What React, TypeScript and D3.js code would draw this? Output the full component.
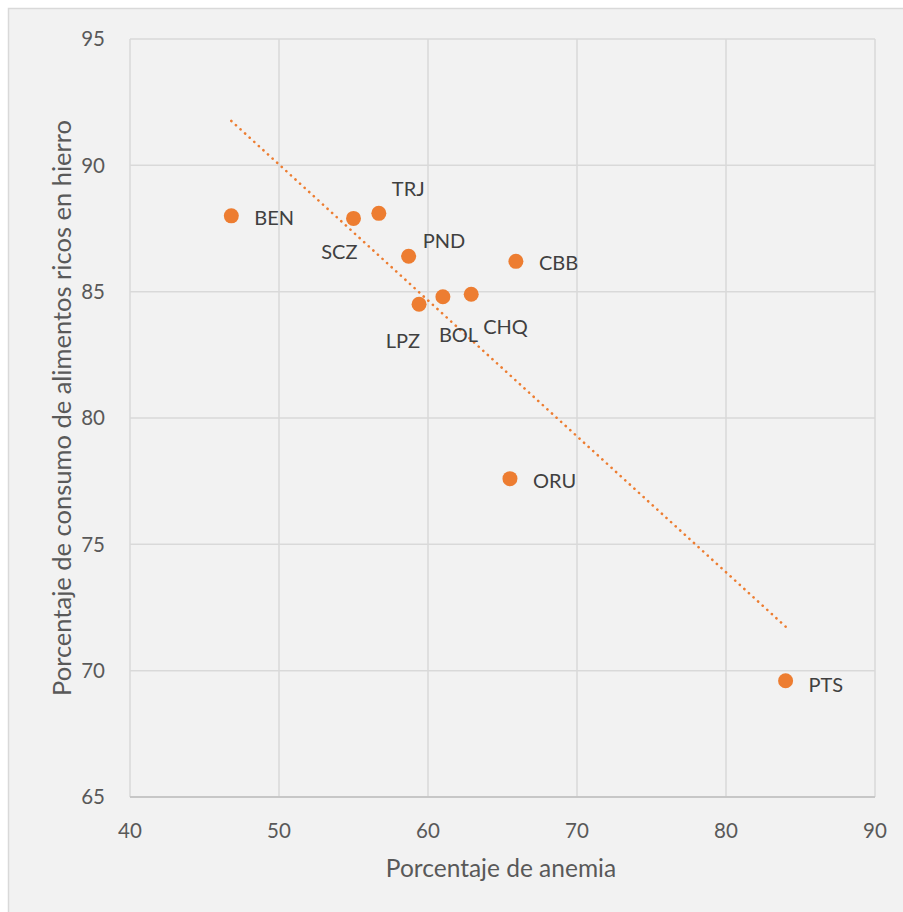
import React from "react";
import * as d3 from "d3";

const regions = ["BEN", "SCZ", "TRJ", "PND", "CBB", "LPZ", "BOL", "CHQ", "ORU", "PTS"];
const anemia = [46.8, 55.0, 56.7, 58.7, 65.9, 59.4, 61.0, 62.9, 65.5, 84.0];
const ironConsumption = [88.0, 87.9, 88.1, 86.4, 86.2, 84.5, 84.8, 84.9, 77.6, 69.6];
const xTicks = [40, 50, 60, 70, 80, 90];
const yTicks = [65, 70, 75, 80, 85, 90, 95];
// label offsets (px) relative to each point: [dx, dy, anchor]
const labelOffsets: [number, number, string][] = [
  [23, 2, "start"],
  [4, 34, "end"],
  [13, -24, "start"],
  [14, -15, "start"],
  [23, 2, "start"],
  [1, 37, "end"],
  [-4, 38, "start"],
  [12, 33, "start"],
  [23, 2, "start"],
  [23, 4, "start"],
];

const X0 = 130, X1 = 875, Y0 = 39, Y1 = 797;
const FONT = "Lato, sans-serif";
const ORANGE = "#ED7D31";

export default function App() {
  const x = d3.scaleLinear().domain([40, 90]).range([X0, X1]);
  const y = d3.scaleLinear().domain([65, 95]).range([Y1, Y0]);

  const n = anemia.length;
  const mx = d3.mean(anemia) as number;
  const my = d3.mean(ironConsumption) as number;
  let sxy = 0, sxx = 0;
  for (let i = 0; i < n; i++) {
    sxy += (anemia[i] - mx) * (ironConsumption[i] - my);
    sxx += (anemia[i] - mx) ** 2;
  }
  const slope = sxy / sxx;
  const icpt = my - slope * mx;
  const xmin = d3.min(anemia) as number;
  const xmax = d3.max(anemia) as number;
  const trend = d3.line<number>().x((v) => x(v)).y((v) => y(icpt + slope * v))([xmin, xmax]);

  return (
    <svg width={903} height={912} style={{ position: "absolute", left: 0, top: 0 }} fontFamily={FONT}>
      <rect x={0} y={0} width={903} height={912} fill="#fff" />
      <rect x={8.5} y={8.5} width={1000} height={1000} fill="#f2f2f2" stroke="#d9d9d9" strokeWidth={1.5} />
      {xTicks.map((t) => (
        <line key={"gx" + t} x1={x(t)} x2={x(t)} y1={Y0} y2={Y1} stroke="#d9d9d9" strokeWidth={1.5} />
      ))}
      {yTicks.map((t) => (
        <line key={"gy" + t} x1={X0} x2={X1} y1={y(t)} y2={y(t)} stroke="#d9d9d9" strokeWidth={1.5} />
      ))}
      <line x1={X0} x2={X1} y1={Y1} y2={Y1} stroke="#bfbfbf" strokeWidth={1.5} />
      {yTicks.map((t) => (
        <text key={"ty" + t} x={105} y={y(t)} dy="0.35em" textAnchor="end" fontSize={20.5} fill="#595959">
          {t}
        </text>
      ))}
      {xTicks.map((t) => (
        <text key={"tx" + t} x={x(t)} y={838} textAnchor="middle" fontSize={20.5} fill="#595959">
          {t}
        </text>
      ))}
      <text x={501} y={877} textAnchor="middle" fontSize={24.5} fill="#595959">
        Porcentaje de anemia
      </text>
      <text
        transform={`translate(71,408) rotate(-90)`}
        textAnchor="middle"
        fontSize={25.5}
        fill="#595959"
      >
        Porcentaje de consumo de alimentos ricos en hierro
      </text>
      <path d={trend || ""} fill="none" stroke={ORANGE} strokeWidth={2.6} strokeDasharray="0.1 6.1" strokeLinecap="round" />
      {regions.map((r, i) => (
        <circle key={"c" + r} cx={x(anemia[i])} cy={y(ironConsumption[i])} r={7.5} fill={ORANGE} />
      ))}
      {regions.map((r, i) => (
        <text
          key={"l" + r}
          x={x(anemia[i]) + labelOffsets[i][0]}
          y={y(ironConsumption[i]) + labelOffsets[i][1]}
          dy="0.35em"
          textAnchor={labelOffsets[i][2]}
          fontSize={20}
          fill="#404040"
        >
          {r}
        </text>
      ))}
    </svg>
  );
}
